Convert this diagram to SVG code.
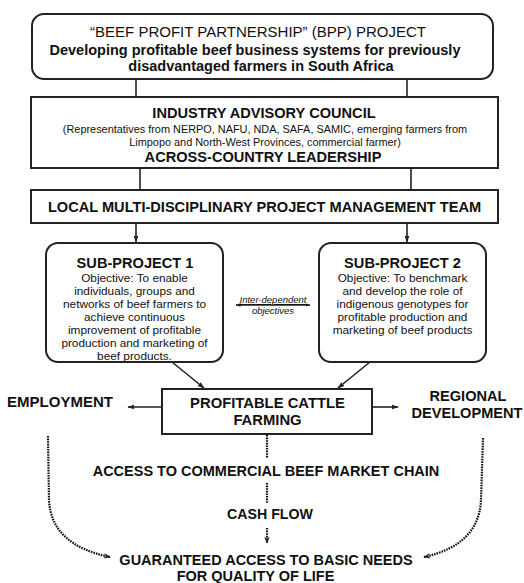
<svg xmlns="http://www.w3.org/2000/svg" width="524" height="583" viewBox="0 0 524 583">
<defs>
<style>
text{font-family:"Liberation Sans",Arial,sans-serif;fill:#111;text-anchor:middle}
.b{font-weight:bold}
.box{fill:#fff;stroke:#222;stroke-width:2}
.ln{stroke:#222;stroke-width:1.6;fill:none}
.dot{stroke:#111;stroke-width:2.2;fill:none;stroke-dasharray:1.6 1}
</style>
<marker id="ah" viewBox="0 0 10 10" refX="9" refY="5" markerWidth="7" markerHeight="7" orient="auto-start-reverse" markerUnits="userSpaceOnUse">
<path d="M0,1.5 L10,5 L0,8.5 Z" fill="#222"/>
</marker>
<marker id="ahs" viewBox="0 0 10 10" refX="9" refY="5" markerWidth="5" markerHeight="5" orient="auto-start-reverse" markerUnits="userSpaceOnUse">
<path d="M0,1.5 L10,5 L0,8.5 Z" fill="#222"/>
</marker>
<marker id="ahd" viewBox="0 0 10 10" refX="9" refY="5" markerWidth="9" markerHeight="7" orient="auto" markerUnits="userSpaceOnUse">
<path d="M0,1 L10,5 L0,9 L3,5 Z" fill="#222"/>
</marker>
</defs>
<rect width="524" height="583" fill="#fff"/>

<g id="connectors">
<line class="ln" x1="136" y1="79" x2="136" y2="97"/>
<line class="ln" x1="407" y1="79" x2="407" y2="97"/>
<line class="ln" x1="140" y1="168" x2="140" y2="190"/>
<line class="ln" x1="411" y1="168" x2="411" y2="190"/>
<line class="ln" x1="136" y1="223" x2="136" y2="242" marker-end="url(#ah)"/>
<line class="ln" x1="407" y1="223" x2="407" y2="242" marker-end="url(#ah)"/>
<line class="ln" x1="172" y1="362" x2="204" y2="388" marker-end="url(#ah)"/>
<line class="ln" x1="370" y1="362" x2="338" y2="388" marker-end="url(#ah)"/>
<line class="ln" x1="162" y1="407" x2="128" y2="407" marker-end="url(#ah)"/>
<line class="ln" x1="372" y1="407" x2="398" y2="407" marker-end="url(#ah)"/>
<line class="ln" x1="236" y1="305" x2="310" y2="305" stroke-width="1.4" marker-start="url(#ahs)" marker-end="url(#ahs)"/>
<line class="dot" x1="267" y1="435" x2="267" y2="458"/>
<line class="dot" x1="267" y1="483" x2="267" y2="503"/>
<line class="dot" x1="267" y1="528" x2="267" y2="543" marker-end="url(#ahd)"/>
<path class="dot" d="M48,436 L49,500 Q51,545 110,557" marker-end="url(#ahd)"/>
<path class="dot" d="M483,438 L481,500 Q479,545 424,557" marker-end="url(#ahd)"/>
</g>

<g id="bpp">
<rect class="box" x="32" y="14" width="461" height="65" rx="12"/>
<text x="258" y="37" font-size="15">“BEEF PROFIT PARTNERSHIP” (BPP) PROJECT</text>
<text x="255" y="55" font-size="14.5" class="b">Developing profitable beef business systems for previously</text>
<text x="261" y="71" font-size="14.5" class="b">disadvantaged farmers in South Africa</text>
</g>

<g id="council">
<rect class="box" x="31" y="97" width="467" height="71"/>
<text x="264" y="118" font-size="14.6" class="b">INDUSTRY ADVISORY COUNCIL</text>
<text x="265" y="133" font-size="10.9">(Representatives from NERPO, NAFU, NDA, SAFA, SAMIC, emerging farmers from</text>
<text x="265" y="146" font-size="10.9">Limpopo and North-West Provinces, commercial farmer)</text>
<text x="263" y="162" font-size="14.6" class="b">ACROSS-COUNTRY LEADERSHIP</text>
</g>

<g id="team">
<rect class="box" x="31" y="190" width="467" height="33"/>
<text x="264.5" y="212" font-size="14.6" class="b">LOCAL MULTI-DISCIPLINARY PROJECT MANAGEMENT TEAM</text>
</g>

<g id="sp1">
<rect class="box" x="46" y="243" width="177" height="119" rx="12"/>
<text x="135" y="268" font-size="14.6" class="b">SUB-PROJECT 1</text>
<text x="134.5" y="282" font-size="11.8">Objective: To enable</text>
<text x="134.5" y="295" font-size="11.8">individuals, groups and</text>
<text x="134.5" y="308" font-size="11.8">networks of beef farmers to</text>
<text x="134.5" y="321" font-size="11.8">achieve continuous</text>
<text x="134.5" y="334" font-size="11.8">improvement of profitable</text>
<text x="134.5" y="347" font-size="11.8">production and marketing of</text>
<text x="134.5" y="360" font-size="11.8">beef products.</text>
</g>

<g id="sp2">
<rect class="box" x="319" y="243" width="167" height="119" rx="12"/>
<text x="402.5" y="268" font-size="14.6" class="b">SUB-PROJECT 2</text>
<text x="402.5" y="282" font-size="11.8">Objective: To benchmark</text>
<text x="402.5" y="295" font-size="11.8">and develop the role of</text>
<text x="402.5" y="308" font-size="11.8">indigenous genotypes for</text>
<text x="402.5" y="321" font-size="11.8">profitable production and</text>
<text x="402.5" y="334" font-size="11.8">marketing of beef products</text>
</g>

<g id="interdep">
<text x="273" y="303" font-size="9.5" font-style="italic" text-decoration="underline">Inter-dependent</text>
<text x="273" y="314" font-size="9.5" font-style="italic">objectives</text>
</g>

<g id="farming">
<rect class="box" x="162" y="389" width="210" height="45"/>
<text x="267.5" y="408" font-size="14.8" class="b">PROFITABLE CATTLE</text>
<text x="267.5" y="425" font-size="14.8" class="b">FARMING</text>
</g>

<g id="employment">
<text x="60" y="407" font-size="15" class="b">EMPLOYMENT</text>
</g>

<g id="regional">
<text x="468" y="401" font-size="14.6" class="b">REGIONAL</text>
<text x="467" y="418" font-size="14.6" class="b">DEVELOPMENT</text>
</g>

<g id="market">
<text x="266" y="476" font-size="14.5" class="b">ACCESS TO COMMERCIAL BEEF MARKET CHAIN</text>
</g>

<g id="cashflow">
<text x="270" y="519" font-size="14.2" class="b">CASH FLOW</text>
</g>

<g id="needs">
<text x="266" y="565" font-size="14.5" class="b">GUARANTEED ACCESS TO BASIC NEEDS</text>
<text x="255.5" y="581" font-size="14.5" class="b">FOR QUALITY OF LIFE</text>
</g>
</svg>
